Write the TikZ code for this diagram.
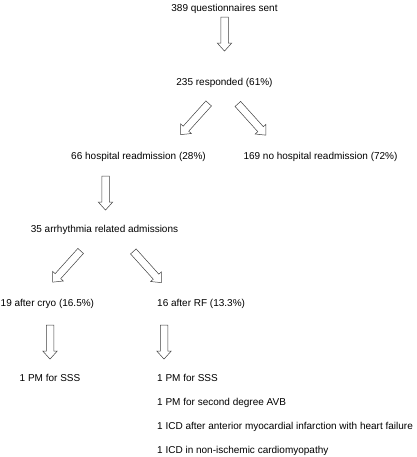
\documentclass[tikz,border=0pt]{standalone}
\usepackage{fontspec}
\setmainfont{Liberation Sans}
\usepackage{tikz}
\usetikzlibrary{positioning}
\usetikzlibrary{shapes.arrows}

\begin{document}
\begin{tikzpicture}[x=1pt, y=-1pt,
  every node/.style={font=\fontsize{10}{12}\selectfont, inner sep=0pt},
  block/.style={single arrow, draw=black!75, line width=0.5pt, fill=white,
    inner xsep=0pt, inner ysep=3.5pt, single arrow head extend=3.5pt,
    single arrow tip angle=84, minimum height=34pt},
  diag/.style={block, minimum height=42pt}]

\useasboundingbox (0,0) rectangle (416,457);

% Counts
\node[anchor=base] (sent) at (224.5,11.8) {389 questionnaires sent};
\node[anchor=base] (resp) at (224.5,85.8) {235 responded (61\%)};
\node[anchor=base] (readm) at (138.5,159.8) {66 hospital readmission (28\%)};
\node[anchor=base] (noreadm) at (320.5,159.8) {169 no hospital readmission (72\%)};
\node[anchor=base] (arrh) at (104.5,232.8) {35 arrhythmia related admissions};
\node[anchor=base west] (cryo) at (0.5,306.8) {19 after cryo (16.5\%)};
\node[anchor=base west] (rf) at (157,306.8) {16 after RF (13.3\%)};

% Outcome after cryo
\node[anchor=base] (cryo1) at (50,381.8) {1 PM for SSS};

% Outcomes after RF
\foreach \t [count=\i] in {1 PM for SSS, 1 PM for second degree AVB,
    1 ICD after anterior myocardial infarction with heart failure,
    1 ICD in non-ischemic cardiomyopathy} {
    \node[anchor=base west] (rf\i) at (157,357.8+24*\i) {\t};
}

% Straight down arrows
\foreach \x/\y [count=\i] in {224.5/32, 105.5/191, 50/340, 164/340} {
    \node[block, rotate=-90] (down\i) at (\x,\y) {};
}

% Split arrows
\foreach \x/\y/\r [count=\i] in {196/117.5/228, 250.5/118/-48, 68/265/228, 146/265.5/-48} {
    \node[diag, rotate=\r] (split\i) at (\x,\y) {};
}

\end{tikzpicture}
\end{document}
